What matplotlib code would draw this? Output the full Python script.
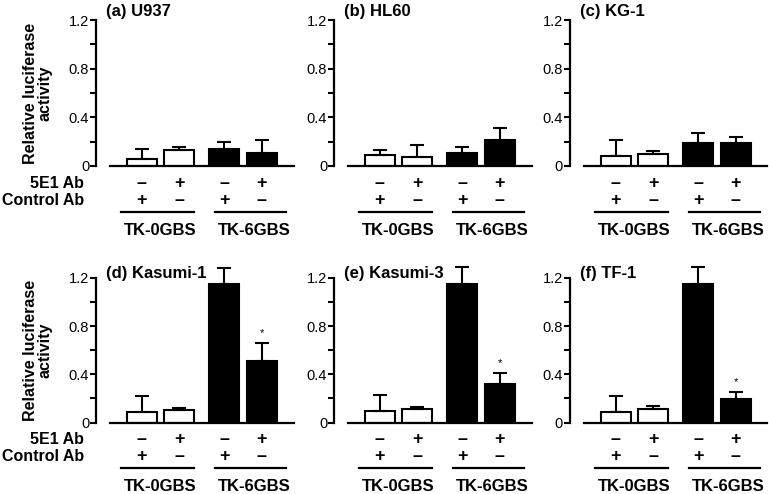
import matplotlib.pyplot as plt
import numpy as np

plt.rcParams['font.family'] = ['Liberation Sans', 'DejaVu Sans']

panels = ["(a) U937", "(b) HL60", "(c) KG-1",
          "(d) Kasumi-1", "(e) Kasumi-3", "(f) TF-1"]
means = [
    [0.06, 0.13, 0.14, 0.11],
    [0.09, 0.075, 0.11, 0.21],
    [0.08, 0.10, 0.19, 0.19],
    [0.09, 0.10, 1.15, 0.51],
    [0.095, 0.11, 1.15, 0.32],
    [0.09, 0.115, 1.15, 0.195],
]
err_tops = [
    [0.14, 0.155, 0.20, 0.21],
    [0.135, 0.17, 0.16, 0.31],
    [0.21, 0.12, 0.27, 0.24],
    [0.22, 0.12, 1.28, 0.66],
    [0.23, 0.13, 1.29, 0.41],
    [0.22, 0.135, 1.29, 0.25],
]
significant = [False, False, False, True, True, True]
ab_5e1 = ["–", "+", "–", "+"]
ab_control = ["+", "–", "+", "–"]
groups = ["TK-0GBS", "TK-6GBS"]

x = np.array([0, 1, 2.2, 3.2])  # bar positions
width = 0.8
colors = ['white', 'white', 'black', 'black']

fig = plt.figure(figsize=(7.69, 4.94), dpi=100)

lefts = [0.143, 0.4525, 0.759]
rows = [(0.664, 0.325), (0.1447, 0.322)]

for i, name in enumerate(panels):
    r, c = divmod(i, 3)
    bottom, height = rows[r]
    ax = fig.add_axes([lefts[c], bottom, 0.239, height])

    m = np.array(means[i])
    up = np.array(err_tops[i]) - m
    ax.bar(x, m, width, color=colors, edgecolor='black', linewidth=1.5,
           yerr=[np.zeros(4), up], capsize=5,
           error_kw=dict(elinewidth=1.5, capthick=1.5, ecolor='black'))
    if significant[i]:
        ax.text(x[3], err_tops[i][3] + 0.04, "*", ha='center', va='bottom',
                fontsize=8)

    ax.set_xlim(-0.85, 4.05)
    ax.set_ylim(0, 1.32)
    for s in ['top', 'right']:
        ax.spines[s].set_visible(False)
    ax.spines['left'].set_position(('outward', 10))
    ax.spines['left'].set_bounds(0, 1.2)
    ax.spines['left'].set_linewidth(1.6)
    ax.spines['bottom'].set_linewidth(1.6)
    ax.set_xticks([])
    ax.set_yticks([0, 0.4, 0.8, 1.2], ['0', '0.4', '0.8', '1.2'])
    ax.set_yticks([0.2, 0.6, 1.0], minor=True)
    ax.tick_params(axis='y', which='both', length=4, width=1.5, pad=1,
                   labelsize=10.5)

    ty = 1.27 if r == 0 else 1.235
    ax.text(-0.96, ty, name, ha='left', va='center', fontsize=12,
            fontweight='bold', clip_on=False)

    for xi, a, b in zip(x, ab_5e1, ab_control):
        ax.text(xi, -0.14, a, ha='center', va='center', fontsize=13,
                fontweight='bold', clip_on=False)
        ax.text(xi, -0.28, b, ha='center', va='center', fontsize=13,
                fontweight='bold', clip_on=False)
    for (x0, x1), xt, g in zip([(-0.55, 1.4), (1.95, 3.85)], [0.5, 3.0], groups):
        ax.plot([x0, x1], [-0.38, -0.38], color='black', lw=1.6,
                clip_on=False)
        ax.text(xt, -0.53, g, ha='center', va='center', fontsize=12,
                fontweight='bold', clip_on=False)

    if c == 0:
        ax.text(-1.55, -0.14, "5E1 Ab", ha='right', va='center',
                fontsize=11.5, fontweight='bold', clip_on=False)
        ax.text(-1.55, -0.28, "Control Ab", ha='right', va='center',
                fontsize=11.5, fontweight='bold', clip_on=False)
        ax.set_ylabel("Relative luciferase\nactivity", fontsize=11.5,
                      fontweight='bold', linespacing=1.0)
        ax.yaxis.set_label_coords(-0.31, 0.6 / 1.32)

fig.savefig("out.png", dpi=100)
